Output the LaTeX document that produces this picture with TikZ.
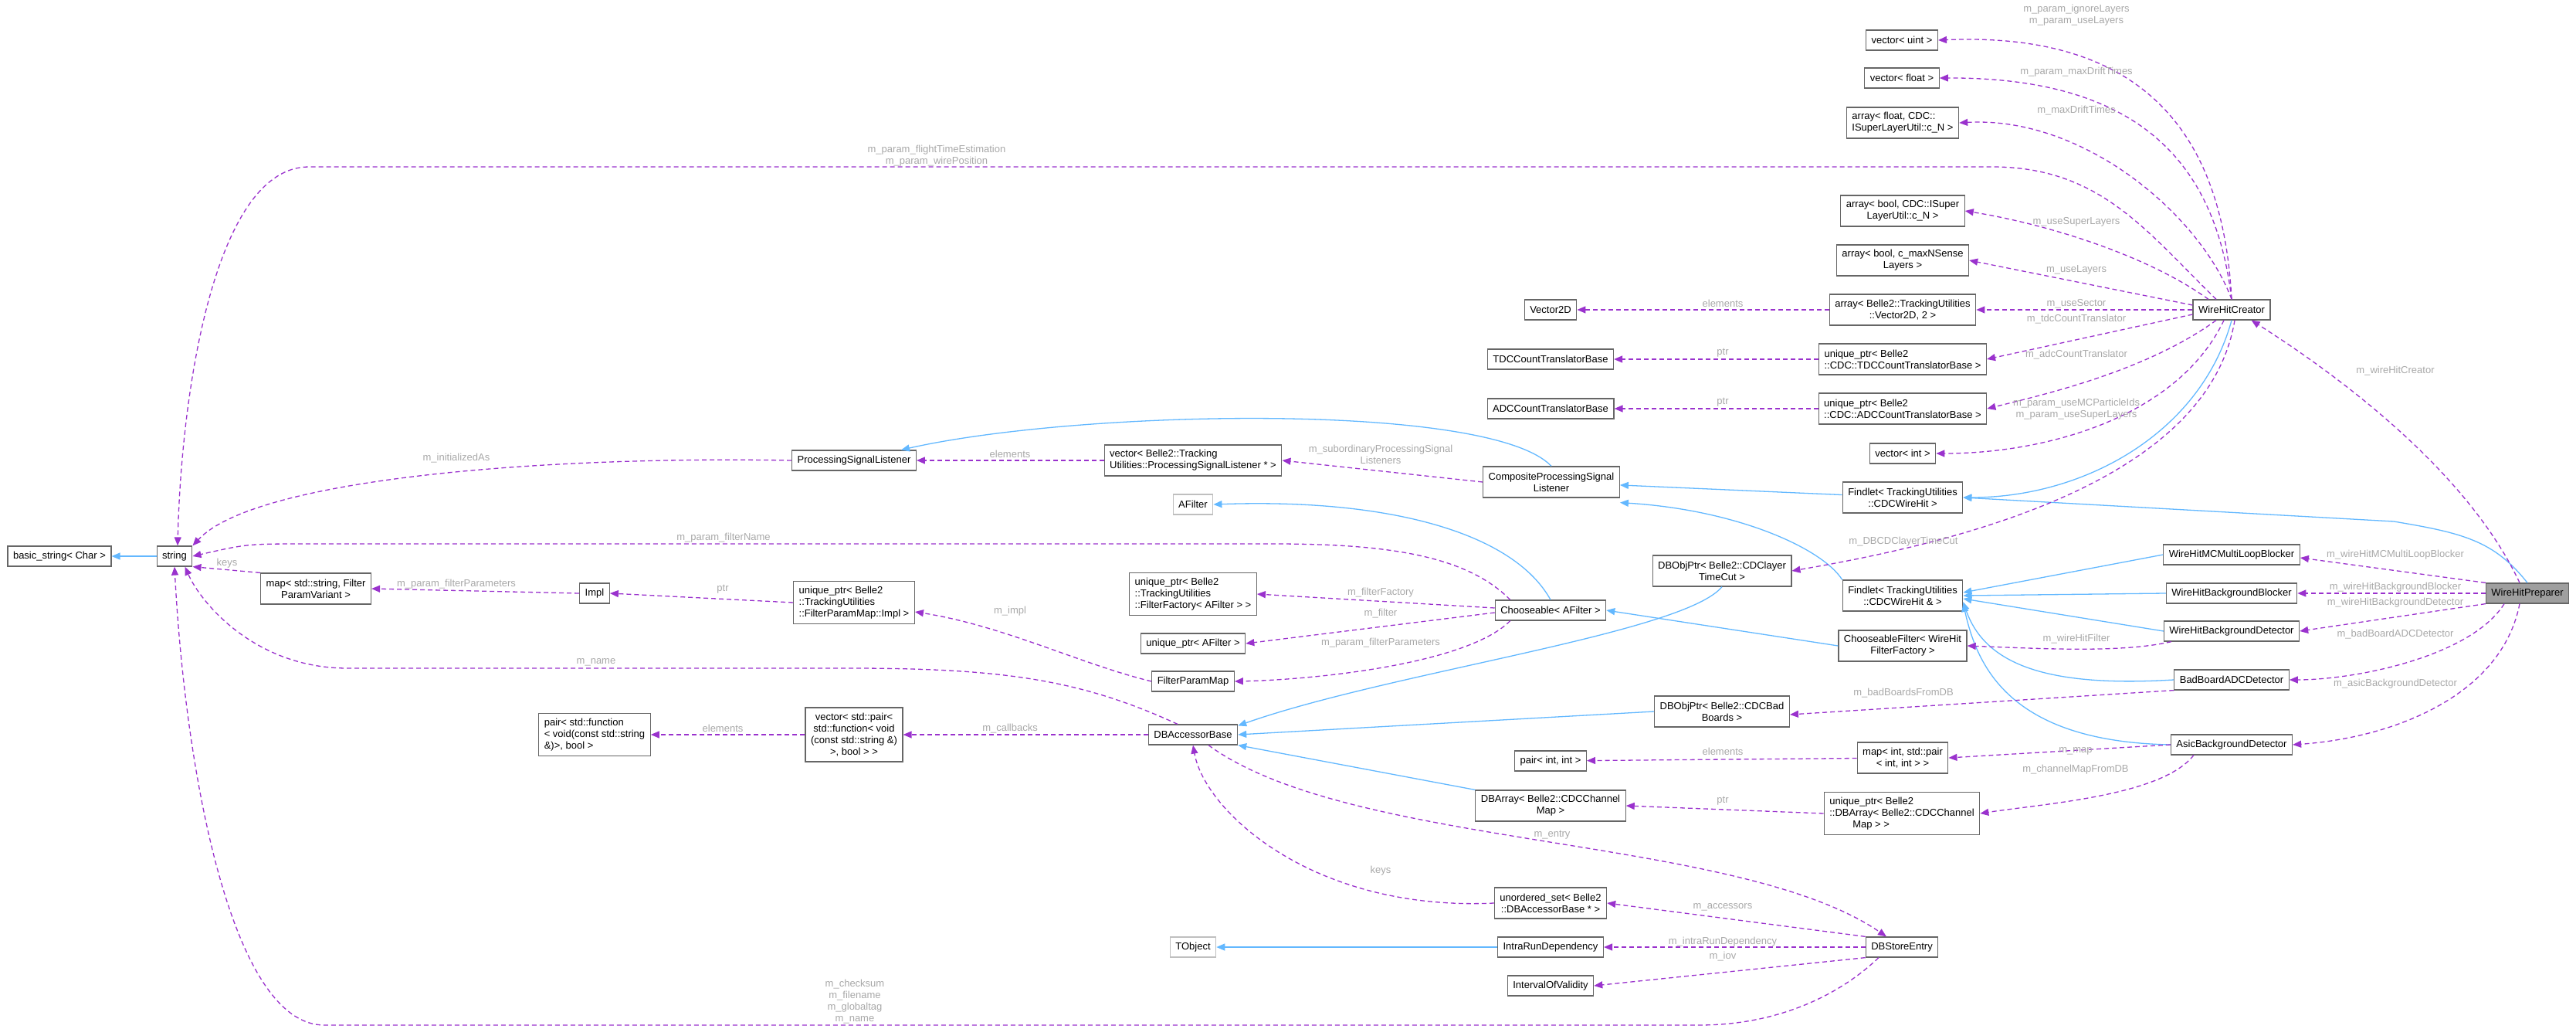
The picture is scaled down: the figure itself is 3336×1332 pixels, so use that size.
\documentclass[tikz,border=0pt]{standalone}
\usepackage{fontspec}
\setmainfont{Liberation Sans}
\usetikzlibrary{arrows.meta}
\definecolor{usecol}{HTML}{9A32CD}
\definecolor{inhcol}{HTML}{63B8FF}
\definecolor{boxcol}{HTML}{666666}
\definecolor{lblcol}{HTML}{A8A8A8}
\tikzset{
  cls/.style={draw=boxcol, fill=white, line width=1.2pt, font=\fontsize{13}{15}\selectfont,
    inner xsep=7pt, inner ysep=2pt, minimum height=26pt, align=center},
  cls2/.style={cls, minimum height=40pt},
  cls3/.style={cls, minimum height=55pt},
  ext/.style={cls, draw=lightgray},
  lbl/.style={text=lblcol, font=\fontsize{13}{15}\selectfont, align=center, inner sep=0pt},
  use/.style={draw=usecol, line width=1.3pt, dash pattern=on 6pt off 4pt,
    -{Triangle[length=11pt,width=9pt,fill=usecol]}},
  inh/.style={draw=inhcol, line width=1.3pt,
    -{Triangle[length=11pt,width=9pt,fill=inhcol]}}
}
\begin{document}
\begin{tikzpicture}[x=1pt,y=-1pt]
\useasboundingbox (0,0) rectangle (3336,1332);
% classes
\node[cls] (bstr) at (77,720) {basic\_string< Char >};
\node[cls] (str) at (226,720) {string};
\node[cls2] (smap) at (409,762) {map< std::string, Filter\\ParamVariant >};
\node[cls] (impl) at (770,768) {Impl};
\node[cls3, align=left] (pairfn) at (770,951) {pair< std::function\\< void(const std::string\\\&)>, bool >};
\node[cls] (psl) at (1106,596) {ProcessingSignalListener};
\node[cls3, align=left] (upimpl) at (1106,780) {unique\_ptr< Belle2\\::TrackingUtilities\\::FilterParamMap::Impl >};
\node[cls, minimum height=70pt] (vfn) at (1106,951) {vector< std::pair<\\std::function< void\\(const std::string \&)\\>, bool > >};
\node[cls2, align=left] (vpsl) at (1545,596) {vector< Belle2::Tracking\\Utilities::ProcessingSignalListener * >};
\node[ext] (afilter) at (1545,653) {AFilter};
\node[cls3, align=left] (upff) at (1545,769) {unique\_ptr< Belle2\\::TrackingUtilities\\::FilterFactory< AFilter > >};
\node[cls] (upaf) at (1545,833) {unique\_ptr< AFilter >};
\node[cls] (fpm) at (1545,882) {FilterParamMap};
\node[cls] (dba) at (1545,951) {DBAccessorBase};
\node[ext] (tobj) at (1545,1226) {TObject};
\node[cls2] (cpsl) at (2009,624) {CompositeProcessingSignal\\Listener};
\node[cls] (ch) at (2008,790) {Chooseable< AFilter >};
\node[cls] (v2d) at (2008,401) {Vector2D};
\node[cls] (tdcb) at (2008,465) {TDCCountTranslatorBase};
\node[cls] (adcb) at (2008,529) {ADCCountTranslatorBase};
\node[cls] (pairii) at (2008,985) {pair< int, int >};
\node[cls2] (dbarr) at (2008,1043) {DBArray< Belle2::CDCChannel\\Map >};
\node[cls2] (uset) at (2008,1169) {unordered\_set< Belle2\\::DBAccessorBase * >};
\node[cls] (ird) at (2008,1226) {IntraRunDependency};
\node[cls] (iov) at (2008,1276) {IntervalOfValidity};
\node[cls2] (dbt) at (2230,739) {DBObjPtr< Belle2::CDClayer\\TimeCut >};
\node[cls2] (dbb) at (2230,921) {DBObjPtr< Belle2::CDCBad\\Boards >};
\node[cls] (vuint) at (2463,52) {vector< uint >};
\node[cls] (vfloat) at (2463,101) {vector< float >};
\node[cls2, align=left] (afloat) at (2464,159) {array< float, CDC::\\ISuperLayerUtil::c\_N >};
\node[cls2] (abool) at (2464,273) {array< bool, CDC::ISuper\\LayerUtil::c\_N >};
\node[cls2] (alay) at (2464,337) {array< bool, c\_maxNSense\\Layers >};
\node[cls2] (avec) at (2464,401) {array< Belle2::TrackingUtilities\\::Vector2D, 2 >};
\node[cls2, align=left] (uptdc) at (2464,465) {unique\_ptr< Belle2\\::CDC::TDCCountTranslatorBase >};
\node[cls2, align=left] (upadc) at (2464,529) {unique\_ptr< Belle2\\::CDC::ADCCountTranslatorBase >};
\node[cls] (vint) at (2464,587) {vector< int >};
\node[cls2] (fl) at (2464,644) {Findlet< TrackingUtilities\\::CDCWireHit >};
\node[cls2] (flr) at (2464,771) {Findlet< TrackingUtilities\\::CDCWireHit \& >};
\node[cls2] (cf) at (2464,836) {ChooseableFilter< WireHit\\FilterFactory >};
\node[cls2] (mapip) at (2464,981) {map< int, std::pair\\< int, int > >};
\node[cls3, align=left] (upa) at (2463,1053) {unique\_ptr< Belle2\\::DBArray< Belle2::CDCChannel\\\hspace*{30pt}Map > >};
\node[cls] (dse) at (2463,1226) {DBStoreEntry};
\node[cls] (whc) at (2890,401) {WireHitCreator};
\node[cls] (mcml) at (2890,718) {WireHitMCMultiLoopBlocker};
\node[cls] (bgb) at (2890,768) {WireHitBackgroundBlocker};
\node[cls] (bgd) at (2890,817) {WireHitBackgroundDetector};
\node[cls] (bb) at (2890,880) {BadBoardADCDetector};
\node[cls] (asic) at (2890,964) {AsicBackgroundDetector};
\node[cls, fill=gray!75] (whp) at (3273,768) {WireHitPreparer};

% inheritance
\draw[inh] (str) -- (bstr);
\draw[inh] (cpsl.north) .. controls (1930,520) and (1400,530) .. ([xshift=-20pt]psl.north east);
\draw[inh] (fl) -- (cpsl);
\draw[inh] (whc.south) .. controls (2850,560) and (2700,644) .. (fl.east);
\draw[inh] (whp.north) .. controls (3230,700) and (3190,690) .. (3100,675) -- (fl.east);
\draw[inh] (flr.north west) .. controls (2360,710) and (2250,660) .. ([yshift=-6pt]cpsl.south east);
\draw[inh] (mcml.west) -- ([yshift=4pt]flr.east);
\draw[inh] (bgb.west) -- (flr.east);
\draw[inh] (bgd.west) -- ([yshift=-4pt]flr.east);
\draw[inh] (bb.west) .. controls (2650,890) and (2570,860) .. ([yshift=-8pt]flr.east);
\draw[inh] (asic.west) .. controls (2600,960) and (2560,860) .. ([yshift=-10pt]flr.east);
\draw[inh] (cf.west) -- (ch.east);
\draw[inh] (ch.north) .. controls (1960,690) and (1800,645) .. (afilter.east);
\draw[inh] (dbt.south) .. controls (2180,820) and (1800,870) .. ([yshift=-2pt]dba.north east);
\draw[inh] (dbb.west) -- (dba.east);
\draw[inh] (dbarr.north west) -- (dba.south east);
\draw[inh] (ird) -- (tobj);

% usage
\draw[use] (whc.north) .. controls (2880,200) and (2800,40) .. (vuint.east);
\draw[use] (whc.north) .. controls (2870,220) and (2780,100) .. (vfloat.east);
\draw[use] (whc.north) .. controls (2850,280) and (2700,150) .. (afloat.east);
\draw[use] ([xshift=-30pt]whc.north) .. controls (2780,330) and (2650,290) .. (abool.east);
\draw[use] ([yshift=6pt]whc.west) -- (alay.east);
\draw[use] (whc.west) -- (avec.east);
\draw[use] ([yshift=-6pt]whc.west) -- (uptdc.east);
\draw[use] ([xshift=-20pt]whc.south) .. controls (2780,480) and (2650,510) .. (upadc.east);
\draw[use] ([xshift=-10pt]whc.south) .. controls (2820,540) and (2650,587) .. (vint.east);
\draw[use] ([xshift=4pt]whc.south) .. controls (2860,620) and (2550,700) .. (dbt.east);
\draw[use] ([xshift=-20pt]whc.north) .. controls (2780,300) and (2720,216) .. (2580,216) -- (400,216)
  .. controls (280,216) and (235,500) .. ([xshift=4pt]str.north);
\draw[use] (avec) -- (v2d);
\draw[use] (uptdc) -- (tdcb);
\draw[use] (upadc) -- (adcb);
\draw[use] ([xshift=-10pt]whp.north) .. controls (3200,620) and (3050,500) .. ([xshift=-25pt]whc.south east);
\draw[use] (whp.north west) -- ([yshift=-4pt]mcml.east);
\draw[use] (whp.west) -- (bgb.east);
\draw[use] (whp.south west) -- (bgd.east);
\draw[use] ([xshift=-30pt]whp.south) .. controls (3200,850) and (3050,880) .. (bb.east);
\draw[use] ([xshift=-10pt]whp.south) .. controls (3240,900) and (3100,955) .. (asic.east);
\draw[use] ([xshift=10pt]bgd.south west) .. controls (2750,845) and (2650,840) .. (cf.east);
\draw[use] (bb.south west) -- ([yshift=-4pt]dbb.east);
\draw[use] (asic.west) -- (mapip.east);
\draw[use] ([xshift=30pt]asic.south west) .. controls (2800,1030) and (2650,1040) .. (upa.east);
\draw[use] (mapip) -- (pairii);
\draw[use] (upa.west) -- (dbarr.east);
\draw[use] (cpsl.west) -- (vpsl.east);
\draw[use] (vpsl) -- (psl);
\draw[use] (psl.west) .. controls (700,590) and (330,620) .. (str.north east);
\draw[use] ([xshift=20pt]ch.north west) .. controls (1900,720) and (1800,704) .. (1650,704) -- (400,704)
  .. controls (320,704) .. (str.east);
\draw[use] ([yshift=3pt]ch.west) -- (upff.east);
\draw[use] ([yshift=-3pt]ch.west) -- (upaf.east);
\draw[use] ([xshift=20pt]ch.south west) .. controls (1900,860) and (1700,880) .. (fpm.east);
\draw[use] (fpm.west) .. controls (1400,860) and (1300,810) .. ([yshift=-12pt]upimpl.east);
\draw[use] (upimpl.west) -- (impl.east);
\draw[use] (impl.west) -- (smap.east);
\draw[use] (smap.north west) -- (str.south east);
\draw[use] ([xshift=-20pt]dba.north) .. controls (1400,880) and (1300,865) .. (1100,865) -- (450,865)
  .. controls (330,865) and (260,780) .. ([xshift=-10pt]str.south east);
\draw[use] (dba.west) -- (vfn.east);
\draw[use] (vfn.west) -- (pairfn.east);
\draw[use] ([xshift=20pt]dba.south) .. controls (1750,1100) and (2250,1080) .. ([xshift=-20pt]dse.north);
\draw[use] (uset.west) .. controls (1700,1180) and (1560,1050) .. (dba.south);
\draw[use] (dse.north west) -- (uset.east);
\draw[use] (dse.west) -- (ird.east);
\draw[use] (dse.south west) -- (iov.east);
\draw[use] ([xshift=-30pt]dse.south) .. controls (2380,1290) and (2300,1327) .. (2200,1327) -- (420,1327)
  .. controls (300,1327) and (240,1000) .. (str.south);

% labels
\node[lbl] (l1) at (2689,20) {m\_param\_ignoreLayers\\m\_param\_useLayers};
\node[lbl] (l2) at (2689,93) {m\_param\_maxDriftTimes};
\node[lbl] (l3) at (2689,143) {m\_maxDriftTimes};
\node[lbl] (l4) at (1213,202) {m\_param\_flightTimeEstimation\\m\_param\_wirePosition};
\node[lbl] (l5) at (2689,287) {m\_useSuperLayers};
\node[lbl] (l6) at (2689,349) {m\_useLayers};
\node[lbl] (l7) at (2689,393) {m\_useSector};
\node[lbl] (l8) at (2689,413) {m\_tdcCountTranslator};
\node[lbl] (l9) at (2231,393) {elements};
\node[lbl] (l10) at (2231,457) {ptr};
\node[lbl] (l11) at (2231,521) {ptr};
\node[lbl] (l12) at (2689,459) {m\_adcCountTranslator};
\node[lbl] (l13) at (3102,480) {m\_wireHitCreator};
\node[lbl] (l14) at (2689,530) {m\_param\_useMCParticleIds\\m\_param\_useSuperLayers};
\node[lbl] (l15) at (2465,701) {m\_DBCDClayerTimeCut};
\node[lbl] (l16) at (3102,718) {m\_wireHitMCMultiLoopBlocker};
\node[lbl] (l17) at (3102,760) {m\_wireHitBackgroundBlocker};
\node[lbl] (l18) at (3102,780) {m\_wireHitBackgroundDetector};
\node[lbl] (l19) at (3102,821) {m\_badBoardADCDetector};
\node[lbl] (l20) at (3102,885) {m\_asicBackgroundDetector};
\node[lbl] (l21) at (2689,827) {m\_wireHitFilter};
\node[lbl] (l22) at (2465,897) {m\_badBoardsFromDB};
\node[lbl] (l23) at (2688,972) {m\_map};
\node[lbl] (l24) at (2688,996) {m\_channelMapFromDB};
\node[lbl] (l25) at (2231,973) {elements};
\node[lbl] (l26) at (2231,1037) {ptr};
\node[lbl] (l27) at (2010,1081) {m\_entry};
\node[lbl] (l28) at (1788,1127) {keys};
\node[lbl] (l29) at (2231,1174) {m\_accessors};
\node[lbl] (l30) at (2231,1219) {m\_intraRunDependency};
\node[lbl] (l31) at (2231,1238) {m\_iov};
\node[lbl] (l32) at (1107,1297) {m\_checksum\\m\_filename\\m\_globaltag\\m\_name};
\node[lbl] (l33) at (1308,588) {elements};
\node[lbl] (l34) at (1788,588) {m\_subordinaryProcessingSignal\\Listeners};
\node[lbl] (l35) at (591,593) {m\_initializedAs};
\node[lbl] (l36) at (937,696) {m\_param\_filterName};
\node[lbl] (l37) at (1788,767) {m\_filterFactory};
\node[lbl] (l38) at (1788,794) {m\_filter};
\node[lbl] (l39) at (1788,832) {m\_param\_filterParameters};
\node[lbl] (l40) at (1308,791) {m\_impl};
\node[lbl] (l41) at (936,763) {ptr};
\node[lbl] (l42) at (591,756) {m\_param\_filterParameters};
\node[lbl] (l43) at (294,729) {keys};
\node[lbl] (l44) at (772,857) {m\_name};
\node[lbl] (l45) at (936,943) {elements};
\node[lbl] (l46) at (1308,943) {m\_callbacks};
\end{tikzpicture}
\end{document}
